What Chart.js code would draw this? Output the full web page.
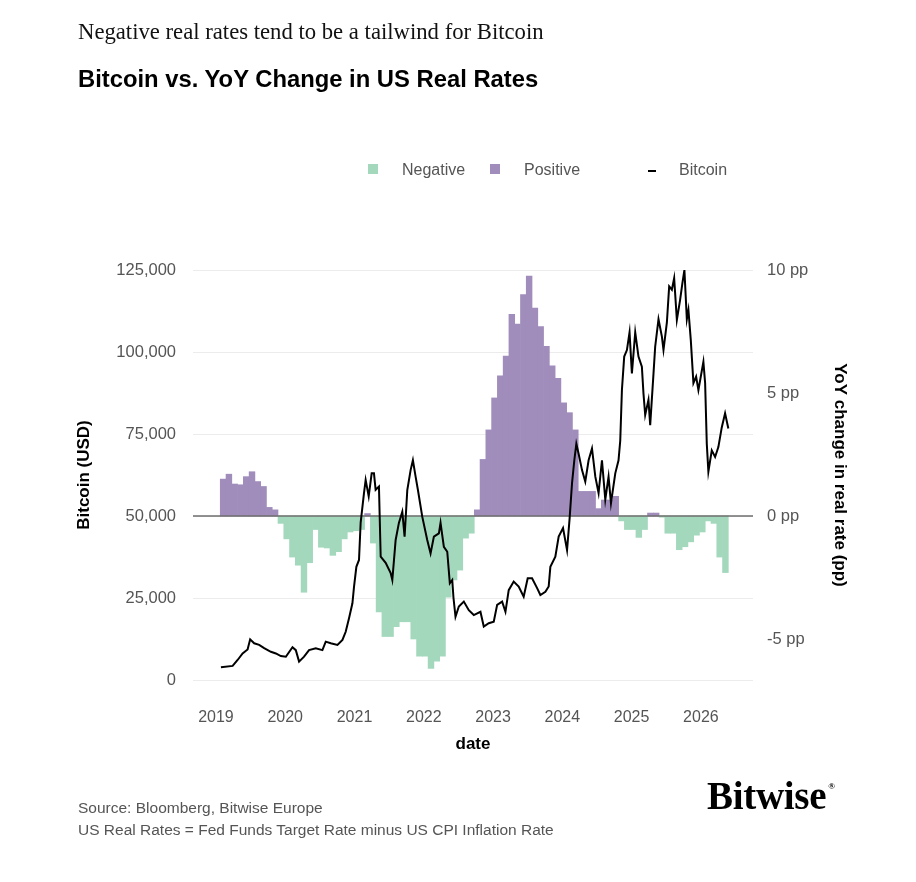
<!DOCTYPE html>
<html>
<head>
<meta charset="utf-8">
<script src="https://cdn.jsdelivr.net/npm/chart.js@4.4.1/dist/chart.umd.min.js"></script>
<style>
  html, body { margin: 0; padding: 0; background: #fff; }
  #page { position: relative; width: 916px; height: 882px; overflow: hidden; font-family: "Liberation Sans", Arial, sans-serif; }
  #page canvas { position: absolute; left: 0; top: 0; }
  .txt { position: absolute; white-space: nowrap; line-height: 1; }
  .kicker { left: 78px; top: 21px; font-family: "Liberation Serif", serif; font-size: 22.7px; color: #111; }
  .headline { left: 78px; top: 67px; font-size: 23.8px; font-weight: bold; color: #000; }
  .legend-item { position: absolute; top: 162px; height: 16px; font-size: 16px; color: #555; }
  .legend-item .mark { position: absolute; }
  .legend-item .lbl { position: absolute; line-height: 1; top: 0; }
  .source { left: 78px; font-size: 15.5px; color: #555; }
  .logo { left: 707px; top: 776px; font-family: "Liberation Serif", serif; font-weight: bold; font-size: 39px; color: #000; letter-spacing: -0.3px; }
  .logo sup { font-size: 9px; vertical-align: 20px; margin-left: 2px; }
</style>
</head>
<body>
<div id="page">
  <canvas id="myChart" width="916" height="882"></canvas>
  <div class="txt kicker">Negative real rates tend to be a tailwind for Bitcoin</div>
  <div class="txt headline">Bitcoin vs. YoY Change in US Real Rates</div>
  <div id="legend"></div>
  <div class="txt source" style="top:800px">Source: Bloomberg, Bitwise Europe</div>
  <div class="txt source" style="top:822px">US Real Rates = Fed Funds Target Rate minus US CPI Inflation Rate</div>
  <div class="txt logo">Bitwise<sup>®</sup></div>
</div>
<script>
// YoY change in US real rate (pp), one value per month from Jan 2019
const rateStartYear = 2019;
const rateChange = [
  1.5, 1.7, 1.3, 1.27, 1.6, 1.8, 1.4, 1.2, 0.35, 0.25, -0.3, -0.93,
  -1.67, -2.0, -3.1, -1.9, -0.55, -1.27, -1.3, -1.6, -1.45, -0.93, -0.65, -0.6,
  -0.55, 0.1, -1.1, -3.9, -4.9, -4.9, -4.5, -4.3, -4.3, -5.0, -5.7, -5.7,
  -6.2, -5.9, -5.7, -3.3, -2.6, -2.2, -0.9, -0.7, 0.25, 2.3, 3.5, 4.8,
  5.7, 6.5, 8.2, 7.8, 9.0, 9.75, 8.45, 7.7, 6.9, 6.1, 5.6, 4.6,
  4.2, 3.5, 1.0, 1.0, 1.0, 0.3, 0.65, 0.65, 0.8, -0.2, -0.55, -0.55,
  -0.87, -0.55, 0.12, 0.12, -0.05, -0.7, -0.7, -1.37, -1.25, -1.05, -0.78, -0.65,
  -0.2, -0.3, -1.67, -2.3
];

// Bitcoin price (USD), decimal-year dates
const btcTime = [
  2019.072, 2019.241, 2019.313, 2019.385, 2019.457, 2019.494, 2019.552, 2019.624, 2019.696, 2019.793, 2019.865, 2019.937,
  2020.009, 2020.105, 2020.153, 2020.200, 2020.272, 2020.344, 2020.441, 2020.537, 2020.585, 2020.657, 2020.754, 2020.826,
  2020.873, 2020.921, 2020.970, 2020.993,
  2021.027, 2021.065, 2021.089, 2021.137, 2021.161, 2021.205, 2021.248, 2021.281, 2021.305, 2021.353, 2021.378, 2021.450,
  2021.522, 2021.546, 2021.594, 2021.641, 2021.690, 2021.723, 2021.762, 2021.810, 2021.843, 2021.882, 2021.915, 2021.978,
  2022.050, 2022.098, 2022.146, 2022.218, 2022.242, 2022.290, 2022.339, 2022.376, 2022.411, 2022.429, 2022.458, 2022.506,
  2022.578, 2022.650, 2022.722, 2022.818, 2022.866, 2022.938,
  2023.010, 2023.059, 2023.131, 2023.179, 2023.226, 2023.298, 2023.370, 2023.442, 2023.500, 2023.563, 2023.636, 2023.683,
  2023.755, 2023.803, 2023.827, 2023.899, 2023.947,
  2024.010, 2024.068, 2024.105, 2024.140, 2024.173, 2024.202, 2024.235, 2024.284, 2024.331, 2024.379, 2024.428, 2024.476,
  2024.523, 2024.572, 2024.620, 2024.667, 2024.702, 2024.764, 2024.811, 2024.836, 2024.860, 2024.893, 2024.932, 2024.970,
  2025.004, 2025.052, 2025.099, 2025.148, 2025.171, 2025.196, 2025.243, 2025.268, 2025.316, 2025.340, 2025.388, 2025.437,
  2025.460, 2025.509, 2025.542, 2025.581, 2025.614, 2025.653, 2025.700, 2025.733, 2025.762, 2025.797, 2025.820, 2025.854,
  2025.892, 2025.931, 2025.964,
  2026.036, 2026.061, 2026.085, 2026.108, 2026.157, 2026.205, 2026.252, 2026.301, 2026.349, 2026.396
];
const btcPrice = [
  3900, 4300, 6100, 8100, 9300, 12400, 11200, 10700, 9700, 8600, 8100, 7300,
  7100, 10000, 9100, 5600, 7100, 9100, 9700, 9100, 11700, 11200, 10700, 12200,
  14700, 18800, 23400, 28400,
  34500, 36600, 48000, 57000, 61000, 56000, 63000, 63000, 58000, 59000, 37600, 35700,
  32600, 30500, 42700, 47900, 51300, 43700, 57900, 64000, 67000, 62000, 58000, 49800,
  42700, 38600, 43700, 44700, 47900, 40600, 39100, 29500, 30500, 25000, 19300, 22400,
  23900, 21300, 19800, 20800, 16300, 17300,
  17800, 22900, 23900, 20800, 27400, 30000, 28500, 25400, 31000, 31000, 28000, 25900,
  26900, 28500, 34500, 37600, 43700,
  46300, 39600, 49300, 60000, 67000, 72000, 69000, 64000, 60500, 67000, 70600, 62000,
  57000, 67000, 55000, 62000, 53900, 63000, 67000, 73000, 88400, 98600, 100600, 106000,
  93500, 106000, 98600, 95500, 87400, 80800, 85400, 77700, 93500, 101600, 110000, 104700,
  100600, 109000, 120000, 119000, 122500, 109800, 115900, 121000, 125000, 110000, 112800, 103700,
  90500, 92500, 88400,
  97000, 90500, 72000, 63500, 70000, 68000, 71000, 77000, 81300, 76700
];

const yearTicks = [2019, 2020, 2021, 2022, 2023, 2024, 2025, 2026];
const usdTicks = [0, 25000, 50000, 75000, 100000, 125000];
const ppTicks = [-5, 0, 5, 10];

const GREEN = "#a3d8bd";
const PURPLE = "#a08dbb";
const TICK_GREY = "#555";

// each monthly print is plotted from ~3 weeks into its month
function monthX(i) {
  return rateStartYear + (i + 1.25) / 12;
}

const negPoints = rateChange.map((v, i) => ({ x: monthX(i), y: v < 0 ? v : null }));
const posPoints = rateChange.map((v, i) => ({ x: monthX(i), y: v >= 0 ? v : null }));
const btcPoints = btcTime.map((t, i) => ({ x: t, y: btcPrice[i] }));

// dark zero line of the rate axis, drawn over the bars but under Bitcoin
const zeroLine = {
  id: "zeroLine",
  afterDatasetDraw(chart, args) {
    if (args.index !== 0) return;
    const ctx = chart.ctx;
    const y = chart.scales.y1.getPixelForValue(0);
    ctx.save();
    ctx.strokeStyle = "#6e6e6e";
    ctx.lineWidth = 1.3;
    ctx.beginPath();
    ctx.moveTo(chart.chartArea.left, y);
    ctx.lineTo(chart.chartArea.right, y);
    ctx.stroke();
    ctx.restore();
  }
};

const axisTitleFont = { size: 17, weight: "bold" };

var ctx = document.getElementById("myChart").getContext("2d");
var myChart = new Chart(ctx, {
  type: "bar",
  data: {
    datasets: [
      { label: "Negative", data: negPoints, backgroundColor: GREEN, yAxisID: "y1", grouped: false,
        barPercentage: 1, categoryPercentage: 1, borderWidth: 0, order: 1 },
      { label: "Positive", data: posPoints, backgroundColor: PURPLE, yAxisID: "y1", grouped: false,
        barPercentage: 1, categoryPercentage: 1, borderWidth: 0, order: 1 },
      { type: "line", label: "Bitcoin", data: btcPoints, yAxisID: "y", borderColor: "#000",
        backgroundColor: "#000", borderWidth: 2, pointRadius: 0, tension: 0, order: 0 }
    ]
  },
  plugins: [zeroLine],
  options: {
    responsive: false,
    animation: false,
    layout: { padding: { left: 70, right: 62.4, top: 270, bottom: 123.4 } },
    plugins: {
      legend: { display: false },
      tooltip: { enabled: false }
    },
    scales: {
      x: {
        type: "linear",
        min: 2018.669,
        max: 2026.752,
        offset: false,
        afterBuildTicks: (s) => { s.ticks = yearTicks.map((v) => ({ value: v })); },
        afterFit: (s) => { s.height = 78.6; },
        grid: { display: false, drawTicks: false },
        border: { display: false },
        ticks: { color: TICK_GREY, font: { size: 16 }, padding: 28, maxRotation: 0, autoSkip: false,
                 callback: (v) => String(v) },
        title: { display: true, text: "date", color: "#000", font: axisTitleFont,
                 padding: { top: 4, bottom: 4 } }
      },
      y: {
        position: "left",
        min: 0,
        max: 125000,
        afterBuildTicks: (s) => { s.ticks = usdTicks.map((v) => ({ value: v })); },
        afterFit: (s) => { s.width = 123; },
        grid: { color: "#ececec", lineWidth: 1, drawTicks: false },
        border: { display: false },
        ticks: { color: TICK_GREY, font: { size: 16.5 }, padding: 17,
                 callback: (v) => v.toLocaleString("en-US") },
        title: { display: true, text: "Bitcoin (USD)", color: "#000", font: axisTitleFont,
                 padding: { top: 4, bottom: 4 } }
      },
      y1: {
        position: "right",
        min: -20 / 3,
        max: 10,
        afterBuildTicks: (s) => { s.ticks = ppTicks.map((v) => ({ value: v })); },
        afterFit: (s) => { s.width = 100.6; },
        grid: { display: false, drawTicks: false },
        border: { display: false },
        ticks: { color: TICK_GREY, font: { size: 16.5 }, padding: 14,
                 callback: (v) => v + " pp" },
        title: { display: true, text: "YoY change in real rate (pp)", color: "#000",
                 font: axisTitleFont, padding: { top: 4, bottom: 4 } }
      }
    }
  }
});

// legend built from the chart's own datasets
const legendLeft = [368, 490, 648];
const legendEl = document.getElementById("legend");
myChart.data.datasets.forEach((ds, i) => {
  const item = document.createElement("div");
  item.className = "legend-item";
  item.style.left = legendLeft[i] + "px";
  const mark = document.createElement("span");
  mark.className = "mark";
  if (ds.type === "line") {
    mark.style.cssText = "left:0;top:8px;width:8px;height:2px;background:" + ds.borderColor;
  } else {
    mark.style.cssText = "left:0;top:2px;width:10px;height:10px;background:" + ds.backgroundColor;
  }
  const lbl = document.createElement("span");
  lbl.className = "lbl";
  lbl.style.left = (ds.type === "line" ? 31 : 34) + "px";
  lbl.textContent = ds.label;
  item.appendChild(mark);
  item.appendChild(lbl);
  legendEl.appendChild(item);
});
</script>
</body>
</html>
